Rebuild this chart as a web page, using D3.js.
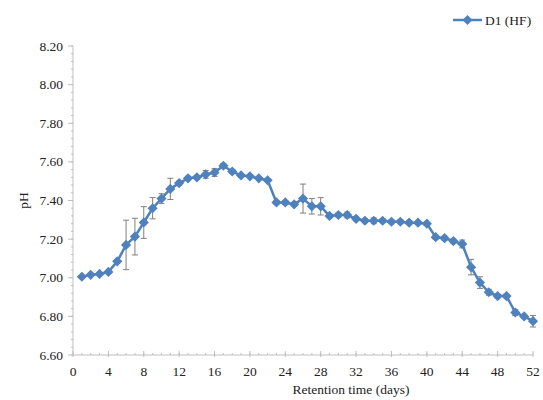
<!DOCTYPE html>
<html>
<head>
<meta charset="utf-8">
<script src="https://cdn.jsdelivr.net/npm/d3@7/dist/d3.min.js"></script>
<style>
  html, body { margin: 0; padding: 0; background: #fff; }
</style>
</head>
<body>
<svg id="chart" width="543" height="400" font-family="'Liberation Serif', 'Times New Roman', 'DejaVu Serif', serif"></svg>
<script>
// Retention time (days) and measured pH for D1 (HF), with standard deviations
const days = [1,2,3,4,5,6,7,8,9,10,11,12,13,14,15,16,17,18,19,20,21,22,23,24,25,26,
              27,28,29,30,31,32,33,34,35,36,37,38,39,40,41,42,43,44,45,46,47,48,49,50,51,52];
const phValues = [7.005,7.015,7.02,7.03,7.085,7.17,7.213,7.286,7.36,7.41,7.46,7.49,7.515,7.52,7.535,7.545,
                  7.58,7.55,7.53,7.525,7.515,7.505,7.39,7.39,7.38,7.41,7.37,7.37,7.32,7.325,7.325,7.305,
                  7.295,7.295,7.295,7.29,7.29,7.285,7.285,7.28,7.21,7.205,7.19,7.175,7.055,6.975,
                  6.925,6.905,6.905,6.82,6.80,6.775];
const phErrors = [0,0,0,0,0.01,0.128,0.095,0.082,0.055,0.025,0.055,0.01,0.01,0.01,0.02,0.02,
                  0.01,0.01,0.005,0.005,0.005,0.005,0.01,0.01,0.01,0.075,0.04,0.045,0.01,0.01,0.015,0.01,
                  0.01,0.015,0.01,0.01,0.01,0.01,0.005,0.005,0.01,0.01,0.01,0.02,0.04,0.03,
                  0.015,0.01,0.01,0.015,0.01,0.03];
const xTicks = [0,4,8,12,16,20,24,28,32,36,40,44,48,52];
const yTicks = [6.6,6.8,7.0,7.2,7.4,7.6,7.8,8.0,8.2];
const seriesName = "D1 (HF)";

const svg = d3.select("#chart");
const plotLeft = 73, plotRight = 533, plotTop = 46, plotBottom = 355;
const blue = "#4f81bd";
const axisGray = "#bfbfbf";
const textColor = "#222";
const fontSize = 13.5;

const x = d3.scaleLinear().domain([0, 52]).range([plotLeft, plotRight]);
const y = d3.scaleLinear().domain([6.6, 8.2]).range([plotBottom, plotTop]);

// minor ticks
const minorX = d3.range(0, 53, 1);
const minorY = d3.range(6.6, 8.2001, 0.04);

const gx = svg.append("g");
gx.append("line").attr("x1", plotLeft).attr("x2", plotRight).attr("y1", plotBottom).attr("y2", plotBottom)
  .attr("stroke", axisGray).attr("stroke-width", 1);
gx.selectAll("line.minor").data(minorX).join("line").attr("class", "minor")
  .attr("x1", d => x(d)).attr("x2", d => x(d)).attr("y1", plotBottom - 2).attr("y2", plotBottom)
  .attr("stroke", axisGray);
gx.selectAll("line.major").data(xTicks).join("line").attr("class", "major")
  .attr("x1", d => x(d)).attr("x2", d => x(d)).attr("y1", plotBottom - 4).attr("y2", plotBottom + 2)
  .attr("stroke", axisGray);
gx.selectAll("text").data(xTicks).join("text")
  .attr("x", d => x(d)).attr("y", plotBottom + 21).attr("text-anchor", "middle")
  .attr("font-size", fontSize).attr("fill", textColor).text(d => d);

const gy = svg.append("g");
gy.append("line").attr("x1", plotLeft).attr("x2", plotLeft).attr("y1", plotTop).attr("y2", plotBottom)
  .attr("stroke", axisGray);
gy.selectAll("line.minor").data(minorY).join("line").attr("class", "minor")
  .attr("x1", plotLeft - 2).attr("x2", plotLeft).attr("y1", d => y(d)).attr("y2", d => y(d))
  .attr("stroke", axisGray);
gy.selectAll("line.major").data(yTicks).join("line").attr("class", "major")
  .attr("x1", plotLeft - 5).attr("x2", plotLeft).attr("y1", d => y(d)).attr("y2", d => y(d))
  .attr("stroke", axisGray);
gy.selectAll("text").data(yTicks).join("text")
  .attr("x", plotLeft - 10).attr("y", d => y(d) + 4.5).attr("text-anchor", "end")
  .attr("font-size", fontSize).attr("fill", textColor).text(d => d.toFixed(2));

// axis titles
svg.append("text").attr("x", 351).attr("y", 394).attr("text-anchor", "middle")
  .attr("font-size", fontSize).attr("fill", textColor).text("Retention time (days)");
svg.append("text").attr("transform", "translate(28," + (y(7.4)) + ") rotate(-90)")
  .attr("text-anchor", "middle").attr("font-size", fontSize).attr("fill", textColor).text("pH");

const data = days.map((d, i) => ({ day: d, ph: phValues[i], err: phErrors[i] }));

// error bars
const eb = svg.append("g").attr("stroke", "#7f7f7f").attr("stroke-width", 1);
data.filter(d => d.err > 0).forEach(d => {
  eb.append("line").attr("x1", x(d.day)).attr("x2", x(d.day))
    .attr("y1", y(d.ph - d.err)).attr("y2", y(d.ph + d.err));
  [d.ph - d.err, d.ph + d.err].forEach(v => {
    eb.append("line").attr("x1", x(d.day) - 3).attr("x2", x(d.day) + 3)
      .attr("y1", y(v)).attr("y2", y(v));
  });
});

// series line
svg.append("path").datum(data)
  .attr("fill", "none").attr("stroke", blue).attr("stroke-width", 2.5)
  .attr("stroke-linejoin", "round")
  .attr("d", d3.line().x(d => x(d.day)).y(d => y(d.ph)));

// diamond markers
const diamond = d3.symbol().type(d3.symbolDiamond2).size(66);
svg.append("g").selectAll("path").data(data).join("path")
  .attr("transform", d => `translate(${x(d.day)},${y(d.ph)})`)
  .attr("d", diamond).attr("fill", blue);

// legend
const lg = svg.append("g");
lg.append("line").attr("x1", 453).attr("x2", 482).attr("y1", 20).attr("y2", 20)
  .attr("stroke", blue).attr("stroke-width", 2.5);
lg.append("path").attr("transform", "translate(467.5,20)").attr("d", diamond).attr("fill", blue);
lg.append("text").attr("x", 485).attr("y", 24.5).attr("font-size", fontSize).attr("fill", textColor).text(seriesName);
</script>
</body>
</html>
